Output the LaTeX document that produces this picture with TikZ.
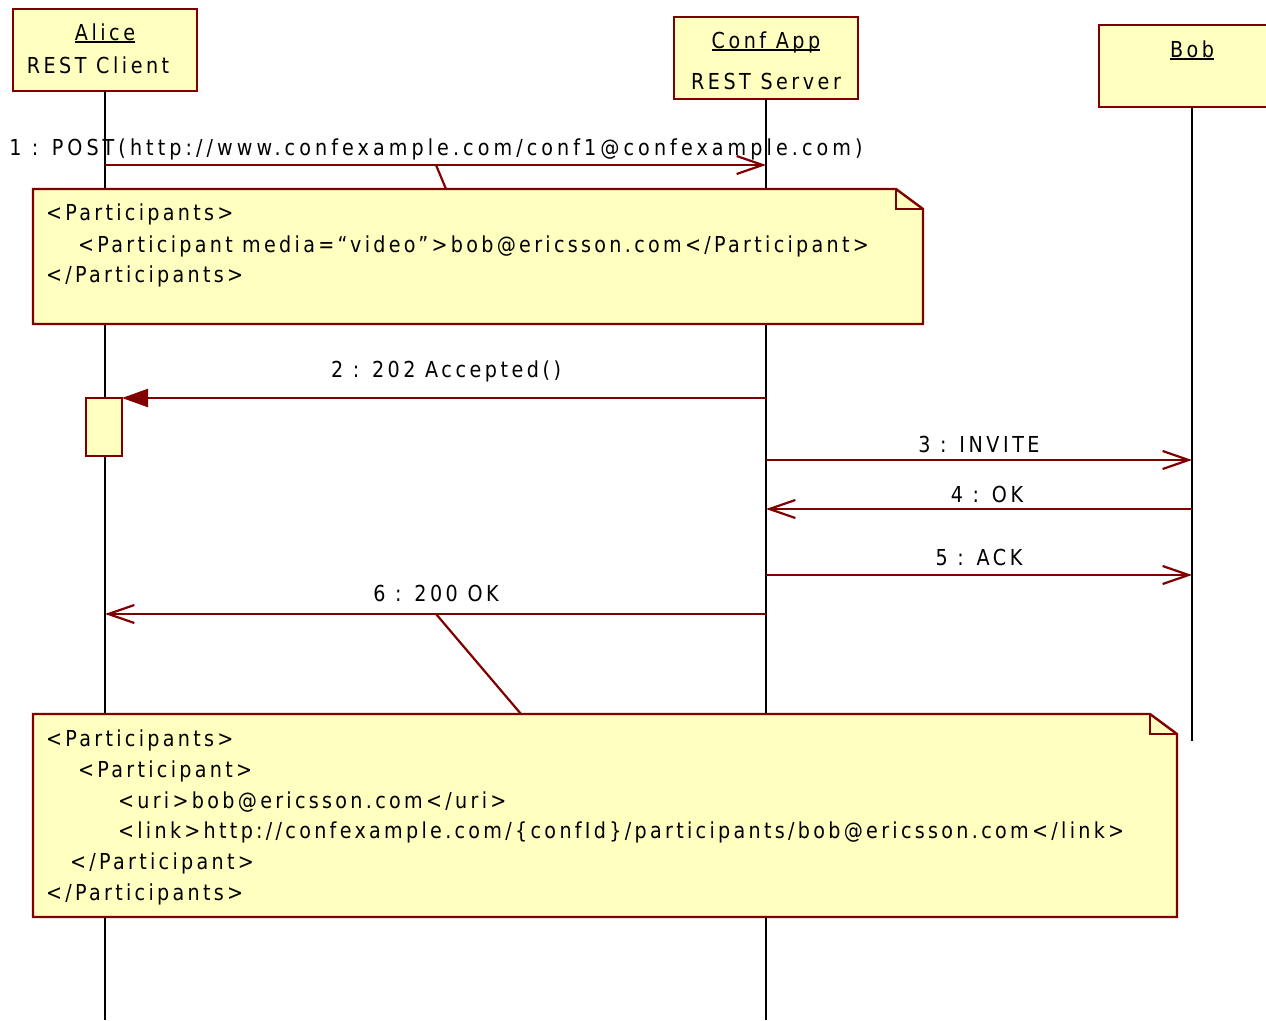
\documentclass[tikz,border=0pt]{standalone}
\usepackage{fontspec}
\setmainfont{DejaVu Sans}[FakeStretch=0.87, LetterSpace=16]
\usetikzlibrary{arrows.meta}
\definecolor{notefill}{RGB}{255,255,192}
\definecolor{umlred}{RGB}{128,0,0}
\newsavebox\ulbox
\newcommand\myul[1]{\sbox\ulbox{#1}\rlap{\rule[-2.5pt]{\wd\ulbox}{1.8pt}}\usebox\ulbox}
\begin{document}
\begin{tikzpicture}[x=1pt,y=-1pt,
  every node/.style={font=\fontsize{22}{26}\selectfont, inner sep=0pt, outer sep=0pt},
  headbox/.style={draw=umlred, fill=notefill, line width=2.4pt, anchor=north west, minimum height=82pt},
  lifeline/.style={line width=2.6pt, black},
  msg/.style={draw=umlred, line width=2.2pt, -{Straight Barb[length=26pt,width=18pt,line width=2.2pt]}},
  syncmsg/.style={draw=umlred, line width=2.2pt, -{Triangle[length=26pt,width=18pt]}, umlred},
  conn/.style={draw=umlred, line width=2.2pt},
  notedraw/.style={draw=umlred, fill=notefill, line width=2.4pt, line join=miter},
  lbl/.style={anchor=base},
  widelbl/.style={anchor=base, font=\fontsize{22}{26}\selectfont\addfontfeatures{LetterSpace=18.5}},
  notetext/.style={anchor=base west, font=\fontsize{22}{26}\selectfont\addfontfeatures{LetterSpace=15}},
  area/.style={anchor=north west, inner sep=0pt}
]
\useasboundingbox (0,0) rectangle (1266,1020);
\fill[white] (0,0) rectangle (1266,1020);

% heads
\node[headbox, minimum width=184pt] (alice) at (13,9) {};
\node[headbox, minimum width=184pt] (conf) at (674,17) {};
\node[headbox, minimum width=186pt] (bob) at (1099,25) {};
\node[lbl] (alicename) at (105,40) {\myul{Alice}};
\node[lbl] (alicerole) at (98,73) {REST Client};
\node[lbl] (confname) at (766,48) {\myul{Conf App}};
\node[lbl] (confrole) at (766,89) {REST Server};
\node[lbl] (bobname) at (1192,57) {\myul{Bob}};

% lifeline ends
\coordinate (yend) at (0,1020);
\coordinate (ybob) at (0,741);
\draw[lifeline] (alice.south) -- (alice.south |- yend);
\draw[lifeline] (conf.south) -- (conf.south |- yend);
\draw[lifeline] (bob.south) -- (bob.south |- ybob);

% message rows
\coordinate (y1) at (0,165);
\coordinate (y2) at (0,398);
\coordinate (y3) at (0,460);
\coordinate (y4) at (0,509);
\coordinate (y5) at (0,575);
\coordinate (y6) at (0,614);

% message 1
\draw[msg] (alice.south |- y1) -- (conf.south |- y1);
\node[widelbl] (l1) at (436,155) {1 : POST(http://www.confexample.com/conf1@confexample.com)};

% note 1
\node[area, minimum width=890pt, minimum height=135pt] (note1) at (33,189) {};
\draw[notedraw] (note1.north west) -- ([xshift=-27pt]note1.north east) -- ([yshift=-20pt]note1.north east) -- (note1.south east) -- (note1.south west) -- cycle;
\draw[notedraw, fill=none] ([xshift=-27pt]note1.north east) -- ([xshift=-27pt,yshift=-20pt]note1.north east) -- ([yshift=-20pt]note1.north east);
\coordinate (c1a) at (436,165);
\coordinate (c1b) at (446,189);
\draw[conn] (c1a) -- (c1b);
\node[notetext] (n1l1) at (46,220) {<Participants>};
\node[notetext] (n1l2) at (78,252) {<Participant media=“video”>bob@ericsson.com</Participant>};
\node[notetext] (n1l3) at (46,282) {</Participants>};

% activation
\node[area, draw=umlred, fill=notefill, line width=2.4pt, minimum width=36pt, minimum height=58pt] (act) at (86,398) {};

% message 2
\draw[syncmsg] (conf.south |- y2) -- (act.north east);
\node[lbl] (l2) at (446,377) {2 : 202 Accepted()};

% messages 3-5
\draw[msg] (conf.south |- y3) -- (bob.south |- y3);
\node[lbl] (l3) at (979,452) {3 : INVITE};
\draw[msg] (bob.south |- y4) -- (conf.south |- y4);
\node[lbl] (l4) at (987,502) {4 : OK};
\draw[msg] (conf.south |- y5) -- (bob.south |- y5);
\node[lbl] (l5) at (979,565) {5 : ACK};

% message 6
\draw[msg] (conf.south |- y6) -- (alice.south |- y6);
\node[lbl] (l6) at (436,601) {6 : 200 OK};

% note 2
\node[area, minimum width=1144pt, minimum height=203pt] (note2) at (33,714) {};
\coordinate (c2a) at (436,614);
\coordinate (c2b) at (521,714);
\draw[conn] (c2a) -- (c2b);
\draw[notedraw] (note2.north west) -- ([xshift=-27pt]note2.north east) -- ([yshift=-20pt]note2.north east) -- (note2.south east) -- (note2.south west) -- cycle;
\draw[notedraw, fill=none] ([xshift=-27pt]note2.north east) -- ([xshift=-27pt,yshift=-20pt]note2.north east) -- ([yshift=-20pt]note2.north east);
\node[notetext] (n2l1) at (46,746) {<Participants>};
\node[notetext] (n2l2) at (78,777) {<Participant>};
\node[notetext] (n2l3) at (118,808) {<uri>bob@ericsson.com</uri>};
\node[notetext] (n2l4) at (118,838) {<link>http://confexample.com/\{confId\}/participants/bob@ericsson.com</link>};
\node[notetext] (n2l5) at (70,869) {</Participant>};
\node[notetext] (n2l6) at (46,900) {</Participants>};
\end{tikzpicture}
\end{document}
